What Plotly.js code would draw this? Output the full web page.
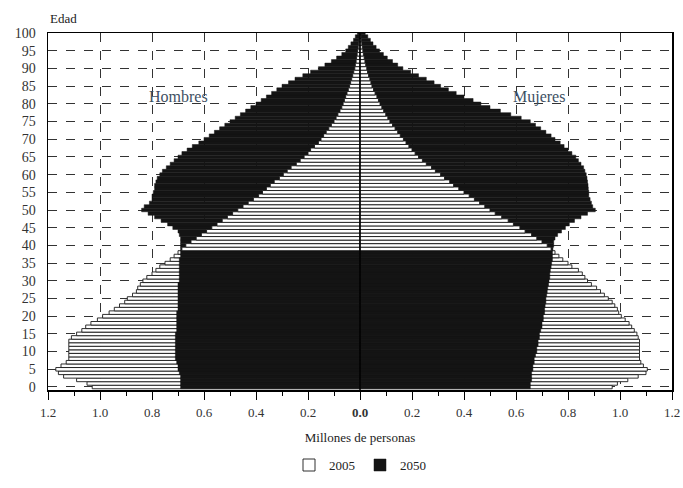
<!DOCTYPE html>
<html><head><meta charset="utf-8">
<script src="https://cdn.plot.ly/plotly-3.0.1.min.js"></script>
<style>html,body{margin:0;padding:0;background:#fff}#chart{width:683px;height:488px}</style>
</head><body><div id="chart"></div>
<script>
const ages = [0,1,2,3,4,5,6,7,8,9,10,11,12,13,14,15,16,17,18,19,20,21,22,23,24,25,26,27,28,29,30,31,32,33,34,35,36,37,38,39,40,41,42,43,44,45,46,47,48,49,50,51,52,53,54,55,56,57,58,59,60,61,62,63,64,65,66,67,68,69,70,71,72,73,74,75,76,77,78,79,80,81,82,83,84,85,86,87,88,89,90,91,92,93,94,95,96,97,98,99,100];

const hombres2005 = [1.03,1.05,1.09,1.14,1.16,1.17,1.15,1.13,1.12,1.12,1.12,1.12,1.12,1.12,1.11,1.09,1.07,1.055,1.035,1.01,0.99,0.965,0.945,0.925,0.905,0.895,0.875,0.86,0.855,0.845,0.835,0.82,0.80,0.785,0.77,0.75,0.73,0.715,0.70,0.685,0.67,0.65,0.63,0.61,0.59,0.57,0.55,0.53,0.51,0.49,0.47,0.45,0.43,0.41,0.39,0.375,0.36,0.345,0.33,0.31,0.295,0.28,0.265,0.245,0.23,0.215,0.20,0.19,0.175,0.16,0.15,0.14,0.13,0.12,0.11,0.10,0.092,0.085,0.077,0.07,0.065,0.06,0.055,0.05,0.045,0.04,0.036,0.032,0.028,0.024,0.02,0.018,0.015,0.013,0.011,0.009,0.007,0.005,0.004,0.003,0.002];

const hombres2050 = [0.69,0.69,0.69,0.69,0.695,0.70,0.70,0.705,0.71,0.71,0.71,0.71,0.71,0.71,0.71,0.71,0.705,0.705,0.705,0.705,0.705,0.705,0.70,0.70,0.70,0.70,0.70,0.70,0.70,0.70,0.695,0.695,0.695,0.695,0.695,0.695,0.695,0.69,0.69,0.69,0.69,0.69,0.69,0.695,0.70,0.72,0.74,0.765,0.79,0.815,0.84,0.83,0.81,0.80,0.80,0.795,0.79,0.79,0.785,0.78,0.77,0.76,0.745,0.73,0.715,0.70,0.685,0.665,0.645,0.62,0.60,0.58,0.56,0.54,0.52,0.50,0.48,0.46,0.44,0.42,0.40,0.38,0.36,0.34,0.32,0.30,0.275,0.25,0.22,0.19,0.16,0.135,0.11,0.09,0.07,0.055,0.045,0.035,0.025,0.018,0.01];

const mujeres2005 = [0.97,0.99,1.03,1.07,1.10,1.105,1.09,1.08,1.075,1.075,1.075,1.075,1.075,1.075,1.07,1.065,1.055,1.045,1.035,1.02,1.005,0.995,0.99,0.98,0.97,0.955,0.94,0.925,0.91,0.89,0.875,0.865,0.855,0.84,0.815,0.80,0.78,0.765,0.75,0.735,0.72,0.70,0.68,0.66,0.635,0.615,0.59,0.57,0.545,0.52,0.50,0.48,0.46,0.44,0.42,0.40,0.38,0.36,0.345,0.325,0.31,0.29,0.275,0.255,0.24,0.225,0.212,0.20,0.188,0.177,0.167,0.155,0.145,0.135,0.125,0.115,0.107,0.099,0.091,0.084,0.077,0.071,0.065,0.058,0.052,0.046,0.042,0.038,0.033,0.029,0.026,0.022,0.019,0.016,0.013,0.011,0.009,0.007,0.005,0.004,0.003];

const mujeres2050 = [0.655,0.655,0.66,0.66,0.66,0.665,0.665,0.67,0.67,0.675,0.68,0.68,0.685,0.685,0.69,0.69,0.695,0.70,0.70,0.705,0.705,0.71,0.71,0.712,0.715,0.715,0.718,0.72,0.722,0.725,0.727,0.73,0.73,0.732,0.735,0.737,0.74,0.74,0.74,0.742,0.745,0.745,0.75,0.76,0.775,0.79,0.805,0.825,0.85,0.875,0.905,0.895,0.89,0.885,0.88,0.88,0.878,0.877,0.875,0.873,0.87,0.865,0.86,0.85,0.84,0.83,0.815,0.80,0.785,0.77,0.75,0.735,0.715,0.695,0.675,0.655,0.62,0.58,0.54,0.50,0.465,0.435,0.40,0.37,0.34,0.31,0.285,0.255,0.225,0.195,0.165,0.145,0.125,0.105,0.09,0.075,0.062,0.05,0.04,0.03,0.02];

const xTickVals = [-1.2,-1.0,-0.8,-0.6,-0.4,-0.2,0,0.2,0.4,0.6,0.8,1.0,1.2];
const xTickText = ['1.2','1.0','0.8','0.6','0.4','0.2','<b>0.0</b>','0.2','0.4','0.6','0.8','1.0','1.2'];
const yTickVals = [0,5,10,15,20,25,30,35,40,45,50,55,60,65,70,75,80,85,90,95,100];

// split 2005 into bars drawn below 2050 (where 2005 is larger) and above (where smaller)
function pick(a, b, larger) { return a.map((v, i) => (larger ? v >= b[i] : v < b[i]) ? v : null); }
function neg(arr) { return arr.map(v => v === null ? null : -v); }

const FONT = 'Liberation Serif';
const white = {color: '#ffffff', line: {color: '#1a1a1a', width: 0.9}};
const black = {color: '#141414', line: {color: '#141414', width: 0.5}};

function bar(x, marker, name, show) {
  return {type: 'bar', orientation: 'h', x: x, y: ages, marker: marker, name: name,
          legendgroup: name, showlegend: show, hoverinfo: 'skip'};
}

const data = [
  bar(neg(pick(hombres2005, hombres2050, true)), white, '2005', true),
  bar(pick(mujeres2005, mujeres2050, true), white, '2005', false),
  bar(neg(hombres2050), black, '2050', true),
  bar(mujeres2050, black, '2050', false),
  bar(neg(pick(hombres2005, hombres2050, false)), white, '2005', false),
  bar(pick(mujeres2005, mujeres2050, false), white, '2005', false)
];

const layout = {
  width: 683, height: 488,
  margin: {l: 48, r: 11, t: 33, b: 98},
  paper_bgcolor: '#fff', plot_bgcolor: '#fff',
  barmode: 'overlay', bargap: 0,
  font: {family: FONT, color: '#222', size: 13},
  showlegend: true,
  legend: {orientation: 'h', x: 0.5, xanchor: 'center', y: 0.047, yref: 'container', yanchor: 'middle',
           font: {family: FONT, size: 13, color: '#222'}, itemwidth: 30, tracegroupgap: 0},
  xaxis: {
    range: [-1.2, 1.2], tickvals: xTickVals, ticktext: xTickText,
    ticks: 'outside', ticklen: 8, tickcolor: '#000', tickwidth: 1,
    minor: {dtick: 0.1, ticks: 'outside', ticklen: 4, tickcolor: '#000', showgrid: false},
    showgrid: true, gridcolor: '#333', griddash: 'dash', gridwidth: 1,
    zeroline: false, showline: true, linecolor: '#000', linewidth: 1.5, mirror: true,
    tickfont: {family: FONT, size: 13, color: '#333'}, ticklabelstandoff: 2,
    title: {text: 'Millones de personas', font: {family: FONT, size: 13, color: '#222'}, standoff: 14},
    fixedrange: true
  },
  yaxis: {
    range: [-0.85, 100], tickvals: yTickVals, ticks: '',
    showgrid: true, gridcolor: '#333', griddash: 'dash', gridwidth: 1,
    zeroline: false, showline: true, linecolor: '#000', linewidth: 1.5, mirror: true,
    tickfont: {family: FONT, size: 14, color: '#333'}, ticklabelstandoff: 8,
    fixedrange: true
  },
  shapes: [
    {type: 'line', xref: 'x', yref: 'y', x0: 0, x1: 0, y0: -0.85, y1: 100, layer: 'above',
     line: {color: '#000', width: 1.5}}
  ],
  annotations: [
    {text: 'Edad', xref: 'paper', yref: 'paper', x: 0, y: 1.04, xanchor: 'left', yanchor: 'middle',
     showarrow: false, font: {family: FONT, size: 13, color: '#222'}},
    {text: 'Hombres', xref: 'x', yref: 'y', x: -0.70, y: 82, showarrow: false,
     font: {family: FONT, size: 16, color: '#3d4f63'}},
    {text: 'Mujeres', xref: 'x', yref: 'y', x: 0.69, y: 82, showarrow: false,
     font: {family: FONT, size: 16, color: '#3d4f63'}}
  ]
};

Plotly.newPlot('chart', data, layout, {displayModeBar: false, staticPlot: true});
</script></body></html>
